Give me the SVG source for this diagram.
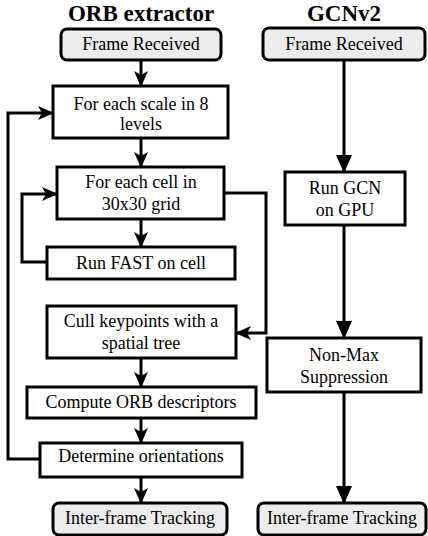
<svg xmlns="http://www.w3.org/2000/svg" width="428" height="536" viewBox="0 0 428 536">
<style>
.box{fill:#fff;stroke:#000;stroke-width:3}
.term{fill:#ececec;stroke:#000;stroke-width:3}
text{font-family:'Liberation Serif','Times New Roman',serif}
.t{font-size:18px;text-anchor:middle;fill:#000}
.h{font-size:23px;font-weight:bold;text-anchor:middle;fill:#000}
.c{fill:none;stroke:#000;stroke-width:3}
.s{marker-end:url(#stealth)}
.f{marker-end:url(#tri)}
</style>
<defs>
<marker id="stealth" markerUnits="userSpaceOnUse" markerWidth="16" markerHeight="14" refX="15" refY="7" orient="auto" viewBox="0 0 16 14">
<path d="M0,0 L16,7 L0,14 L4,7 z" fill="#000"/>
</marker>
<marker id="tri" markerUnits="userSpaceOnUse" markerWidth="18" markerHeight="16" refX="17" refY="8" orient="auto" viewBox="0 0 18 16">
<path d="M0,0 L18,8 L0,16 z" fill="#000"/>
</marker>
</defs>
<text class="h" x="141" y="21">ORB extractor</text>
<text class="h" x="344" y="21">GCNv2</text>
<g id="connectors">
<path class="c s" d="M141,60 V86"/>
<path class="c s" d="M141,138 V167"/>
<path class="c s" d="M141,219 V247"/>
<path class="c s" d="M47,262 H22 V194 H57"/>
<path class="c s" d="M224,193 H266 V333 H236"/>
<path class="c s" d="M141,358 V387"/>
<path class="c s" d="M141,418 V443"/>
<path class="c s" d="M40,459 H8 V113 H53"/>
<path class="c s" d="M141,477 V503"/>
<path class="c f" d="M344,60 V172"/>
<path class="c f" d="M344,225 V338"/>
<path class="c f" d="M344,392 V503"/>
</g>
<g id="orb_frame"><rect class="term" x="61" y="29" width="160" height="31" rx="6"/><text class="t" x="141" y="50">Frame Received</text></g>
<g id="orb_scale"><rect class="box" x="53" y="86" width="175" height="52"/><text class="t" x="141" y="110">For each scale in 8</text><text class="t" x="141" y="130">levels</text></g>
<g id="orb_cell"><rect class="box" x="57" y="167" width="167" height="52"/><text class="t" x="141" y="188">For each cell in</text><text class="t" x="141" y="210">30x30 grid</text></g>
<g id="orb_fast"><rect class="box" x="47" y="247" width="188" height="32"/><text class="t" x="141" y="269">Run FAST on cell</text></g>
<g id="orb_cull"><rect class="box" x="47" y="306" width="189" height="52"/><text class="t" x="141" y="327">Cull keypoints with a</text><text class="t" x="141" y="349">spatial tree</text></g>
<g id="orb_compute"><rect class="box" x="27" y="387" width="229" height="31"/><text class="t" x="141" y="408">Compute ORB descriptors</text></g>
<g id="orb_orient"><rect class="box" x="40" y="443" width="202" height="34"/><text class="t" x="141" y="462">Determine orientations</text></g>
<g id="orb_track"><rect class="term" x="53" y="503" width="174" height="32" rx="6"/><text class="t" x="140" y="524">Inter-frame Tracking</text></g>
<g id="gcn_frame"><rect class="term" x="263" y="28" width="162" height="32" rx="6"/><text class="t" x="344" y="50">Frame Received</text></g>
<g id="gcn_run"><rect class="box" x="285" y="172" width="120" height="53"/><text class="t" x="345" y="194">Run GCN</text><text class="t" x="345" y="216">on GPU</text></g>
<g id="gcn_nms"><rect class="box" x="267" y="338" width="154" height="54"/><text class="t" x="344" y="361">Non-Max</text><text class="t" x="344" y="383">Suppression</text></g>
<g id="gcn_track"><rect class="term" x="258" y="503" width="168" height="32" rx="6"/><text class="t" x="342" y="524">Inter-frame Tracking</text></g>
</svg>
